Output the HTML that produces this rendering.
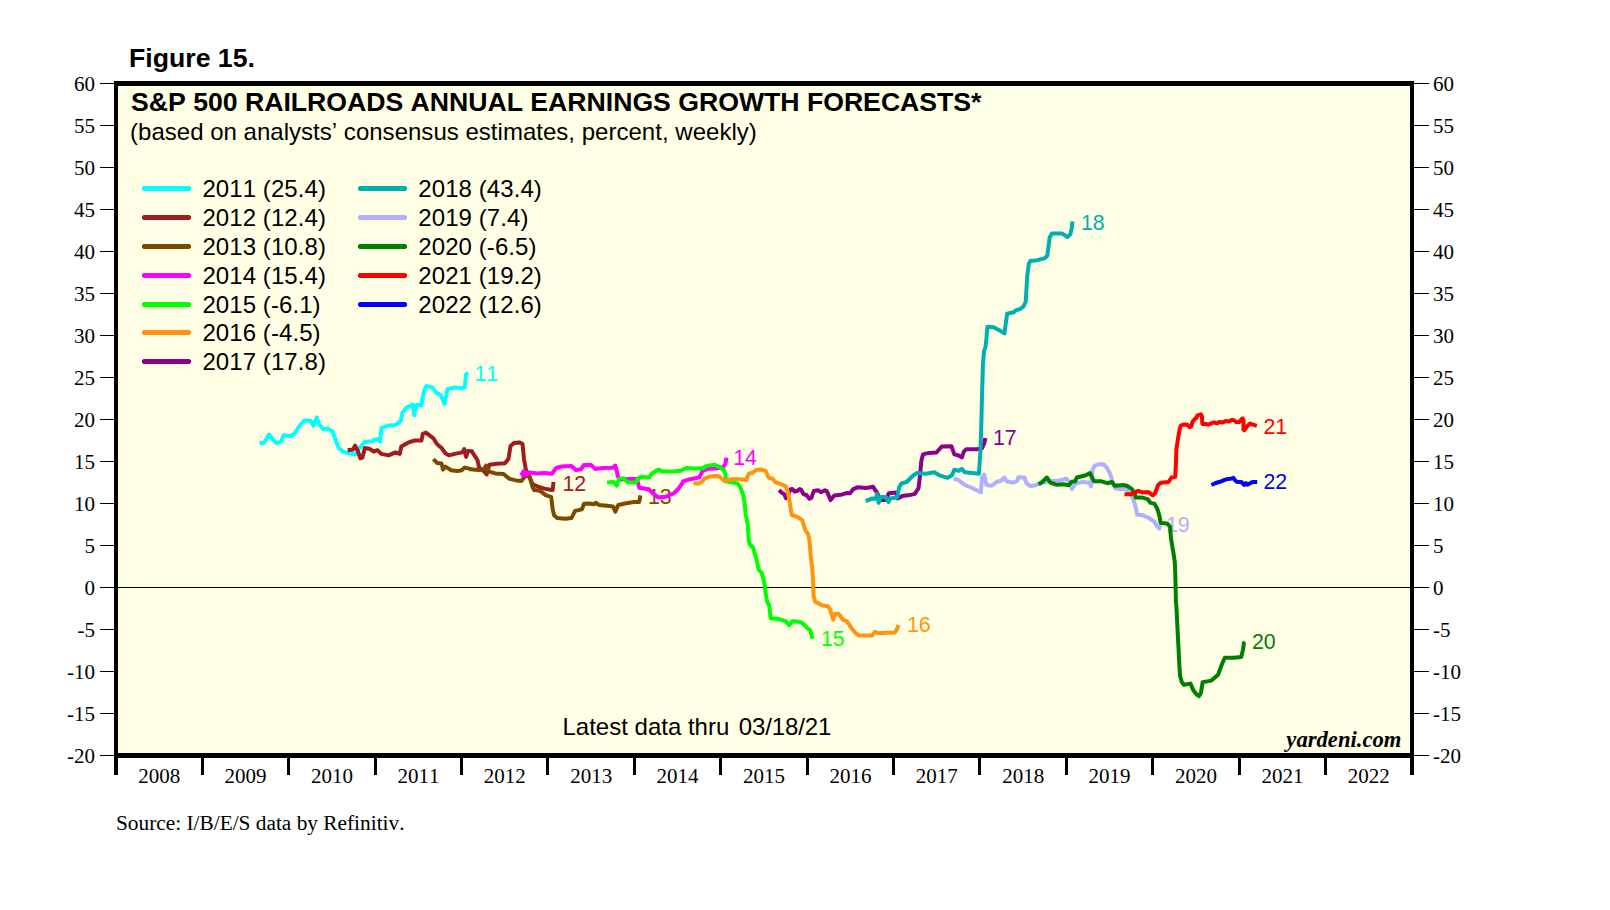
<!DOCTYPE html>
<html><head><meta charset="utf-8"><title>Figure 15</title>
<style>html,body{margin:0;padding:0;background:#fff;}body{width:1610px;height:910px;overflow:hidden;}svg{display:block;}text{font-kerning:none;}.ss{font-family:"Liberation Sans",sans-serif;}.sf{font-family:"Liberation Serif",serif;}</style></head><body>
<svg width="1610" height="910" viewBox="0 0 1610 910">
<rect x="0" y="0" width="1610" height="910" fill="#ffffff"/>
<rect x="118" y="86" width="1292" height="667" fill="#ffffe6"/>
<rect x="118" y="86" width="1292" height="1" fill="#fffff3"/>
<rect x="118" y="587" width="1292" height="1" fill="#000"/>
<g fill="none" stroke-linejoin="round" stroke-linecap="butt" stroke-width="4">
<polyline stroke="#00ffff" points="259.7,443.2 264.2,442.7 269.1,434.5 272.4,439.0 276.8,443.2 281.3,441.7 283.5,435.3 289.5,436.0 294.0,434.5 299.2,426.3 304.4,420.4 311.1,421.1 313.4,425.6 316.8,417.4 319.3,424.8 323.8,429.3 327.5,428.6 332.7,431.6 335.7,440.5 338.7,448.0 343.9,452.1 349.9,453.6 355.8,454.2 359.6,448.0 364.8,442.0 372.2,441.2 377.5,439.0 380.0,441.7 381.5,427.8 388.6,425.6 395.3,425.1 400.6,421.1 402.8,412.2 406.5,407.7 412.5,404.7 414.3,415.2 416.7,404.7 421.4,405.5 424.4,389.8 426.6,386.1 432.6,387.6 436.3,392.8 440.8,395.0 444.5,404.0 447.5,389.1 454.2,387.6 460.2,388.3 464.7,387.6 466.1,374.2 468.4,373.4"/>
<text class="ss" font-size="21.33" stroke="none" x="474.5" y="381" fill="#00ffff">11</text>
<polyline stroke="#a01c20" points="347.6,450.2 352.9,449.4 355.1,445.7 358.1,451.7 360.3,458.4 362.5,457.6 364.8,448.0 369.3,448.7 373.7,451.7 377.5,450.2 381.2,453.9 388.6,455.4 395.3,452.4 399.8,453.9 401.3,446.5 408.0,442.7 414.7,440.5 421.4,440.5 422.9,433.8 425.9,432.6 433.4,438.3 437.1,444.2 441.6,448.0 445.3,453.2 449.0,455.4 455.7,453.6 462.4,452.4 464.2,449.1 466.1,456.9 467.9,450.9 472.1,451.2 472.2,452.0 477.5,460.2 479.2,467.7 484.2,471.4 486.7,474.4 489.4,464.7 496.8,463.7 505.0,463.2 508.5,458.8 510.5,446.1 514.0,443.1 519.2,442.4 522.5,443.9 524.0,458.8 525.9,469.9 528.9,475.9 532.6,484.1 537.1,486.3 544.5,488.6 550.5,489.8 552.7,490.1 553.5,481.9"/>
<text class="ss" font-size="21.33" stroke="none" x="562.4" y="491" fill="#a01c20">12</text>
<polyline stroke="#7b4a00" points="433.4,459.1 437.1,462.9 441.6,463.6 443.0,469.6 445.3,466.6 451.2,470.3 457.2,471.1 461.7,470.3 464.7,467.6 473.6,469.6 470.0,469.2 478.9,469.9 484.2,469.2 486.1,465.5 488.6,471.4 495.3,473.4 503.5,474.0 509.5,478.9 516.2,480.4 521.4,481.1 525.9,475.2 529.6,476.6 532.6,487.1 534.1,490.1 540.1,490.8 546.0,495.3 551.2,496.8 552.7,509.4 554.2,515.4 557.2,518.1 565.4,518.7 571.4,518.1 575.1,510.9 581.8,509.4 584.0,503.8 589.3,503.5 593.7,504.2 596.0,502.7 598.9,505.0 607.1,505.7 613.1,506.5 615.3,511.7 618.3,505.0 625.0,503.5 634.0,502.0 639.2,502.0 640.4,495.3"/>
<text class="ss" font-size="21.33" stroke="none" x="648" y="503.8" fill="#7b4a00">13</text>
<polyline stroke="#ff00ff" points="521.4,475.2 523.4,471.4 522.5,474.9 525.5,472.2 525.5,474.9 529.6,472.5 537.1,473.4 544.5,472.9 552.0,473.7 556.5,467.7 562.4,466.5 571.4,465.9 575.8,469.9 581.1,469.2 584.0,465.0 590.7,464.7 595.2,468.9 602.7,468.0 613.1,467.7 615.3,465.5 618.3,477.4 620.6,479.6 628.0,478.9 637.0,478.9 639.2,487.8 648.9,489.3 654.1,494.5 658.6,497.5 665.3,496.8 674.2,493.0 678.0,489.3 683.2,481.9 683.0,481.4 690.4,479.2 699.4,477.4 702.4,471.0 708.3,468.8 715.8,468.5 723.2,467.3 725.5,463.5 726.5,457.6"/>
<text class="ss" font-size="21.33" stroke="none" x="733.2" y="464.8" fill="#ff00ff">14</text>
<polyline stroke="#00ff00" points="607.1,482.6 613.1,481.9 616.8,485.6 619.1,478.9 623.5,478.1 628.0,482.6 635.5,482.6 638.4,478.1 641.4,476.9 648.9,477.4 652.6,472.9 658.6,469.5 662.3,471.4 672.7,471.4 680.2,470.7 680.0,471.0 686.0,468.0 694.9,468.5 702.4,468.5 706.1,466.1 714.3,464.6 720.2,467.3 724.0,470.2 725.5,474.7 725.9,481.4 730.7,482.2 737.4,483.4 740.4,487.4 743.4,495.6 744.8,504.5 745.6,513.5 747.8,525.4 748.9,541.1 750.1,544.8 752.3,547.0 749.8,544.5 753.1,547.5 756.5,559.4 758.8,569.8 761.7,572.8 764.4,583.2 765.5,592.2 767.0,601.1 769.2,605.6 770.7,618.3 777.4,618.7 785.6,621.2 789.3,625.0 792.3,621.2 799.8,621.7 803.5,624.2 806.5,627.2 810.2,630.2 811.7,636.1 812.7,638.7"/>
<text class="ss" font-size="21.33" stroke="none" x="821" y="646" fill="#00ff00">15</text>
<polyline stroke="#8c008c" points="779.1,490.0 781.8,492.8 784.3,494.2 786.0,498.2 788.2,494.7 790.2,489.5 792.2,489.0 794.7,491.5 797.2,491.0 799.6,489.0 801.1,489.8 803.6,494.2 806.5,495.0 809.5,498.9 811.5,497.7 813.7,491.0 818.4,490.3 820.9,492.3 825.0,490.3 826.8,491.1 830.6,500.1 834.3,495.6 841.0,494.8 847.0,492.9 850.0,493.2 853.0,489.4 857.5,487.2 866.4,488.0 873.1,486.8 876.8,492.4 880.6,499.9 885.8,499.9 888.8,493.2 896.2,492.4 897.7,498.4 902.2,496.1 909.6,495.1 914.8,493.9 918.6,488.0 920.1,474.5 921.3,461.1 923.0,454.4 929.0,452.9 936.5,452.5 941.7,446.5 951.4,446.2 954.3,454.4 958.1,455.2 961.8,457.4 964.0,451.4 966.3,449.2 976.7,449.2 981.9,448.4 984.2,443.2 985.4,438.0"/>
<text class="ss" font-size="21.33" stroke="none" x="993" y="444.7" fill="#8c008c">17</text>
<polyline stroke="#ff9410" points="693.4,482.9 698.6,483.7 702.4,481.4 704.6,478.4 709.8,476.5 717.3,475.9 721.0,477.7 724.7,481.0 730.7,479.2 739.6,479.2 746.3,479.9 748.6,474.0 753.0,472.5 756.0,470.0 761.2,469.5 765.7,471.0 768.7,477.7 772.4,478.4 775.4,482.2 781.4,484.4 785.8,486.3 788.1,492.6 789.6,501.6 791.8,515.0 797.8,517.2 802.2,520.2 805.2,529.9 808.2,534.3 809.4,540.3 810.9,557.9 812.4,569.8 813.2,584.7 813.6,596.6 815.4,601.9 822.9,605.6 828.1,606.3 830.3,610.1 833.3,619.8 835.1,613.8 838.5,613.8 843.0,619.8 846.7,621.2 851.9,628.7 855.7,633.2 858.6,635.4 865.3,635.4 872.0,635.4 875.0,631.7 878.0,633.2 885.5,632.7 894.4,632.7 896.6,630.2 898.4,625.0"/>
<text class="ss" font-size="21.33" stroke="none" x="906.9" y="631.7" fill="#ff9410">16</text>
<polyline stroke="#00b0b0" points="865.7,501.1 872.4,498.4 876.1,498.7 876.8,493.9 878.6,502.9 880.6,496.9 885.8,496.9 888.5,502.1 890.2,498.4 897.0,497.6 899.2,487.2 901.4,483.5 906.6,482.0 912.6,476.0 917.1,473.0 926.0,473.8 934.2,472.3 939.4,475.3 947.6,477.8 952.1,475.3 954.3,469.8 958.8,470.8 961.8,468.9 964.8,472.3 972.2,473.0 978.9,473.8 980.4,452.2 981.2,429.8 981.9,400.0 982.5,379.6 982.9,364.7 984.0,351.3 985.5,346.8 986.5,337.9 987.4,326.7 993.7,327.2 999.6,330.4 1004.4,333.4 1006.3,320.0 1007.1,313.8 1013.8,312.3 1016.0,310.1 1019.8,309.3 1023.5,306.4 1025.7,301.9 1026.5,288.5 1027.2,276.6 1028.7,264.6 1030.2,260.9 1036.9,260.2 1044.3,258.4 1047.3,255.7 1048.5,246.7 1049.6,237.8 1051.8,233.6 1062.2,233.6 1067.5,237.0 1070.4,234.1 1071.9,227.4 1072.4,221.4"/>
<text class="ss" font-size="21.33" stroke="none" x="1080.9" y="229.6" fill="#00b0b0">18</text>
<polyline stroke="#b0b0ff" points="953.6,478.7 958.1,479.8 964.8,485.0 972.2,488.0 980.9,492.4 981.9,477.5 984.2,474.5 986.4,485.0 991.6,485.7 996.8,482.0 1001.3,480.5 1004.3,477.5 1006.5,481.2 1013.2,482.7 1017.0,481.2 1018.4,477.2 1024.4,477.5 1026.6,483.5 1030.4,486.2 1036.3,485.0 1042.3,482.7 1050.0,481.2 1058.9,480.5 1066.4,478.7 1069.4,482.0 1072.1,489.1 1075.3,483.5 1082.8,482.0 1089.5,482.7 1091.0,486.5 1092.5,470.1 1094.7,465.6 1099.2,464.1 1103.7,464.4 1107.4,468.6 1110.4,474.5 1112.6,482.0 1114.8,488.0 1120.1,489.1 1126.0,489.1 1130.5,493.9 1133.5,499.9 1135.7,507.3 1137.2,514.8 1142.4,515.1 1148.4,517.8 1154.3,521.5 1157.3,526.7 1159.1,528.5 1160.3,525.2"/>
<text class="ss" font-size="21.33" stroke="none" x="1166" y="531.5" fill="#b0b0ff">19</text>
<polyline stroke="#008000" points="1038.6,484.2 1042.3,482.0 1046.8,477.5 1050.5,482.7 1056.0,484.7 1063.4,484.2 1068.6,485.3 1071.6,481.7 1075.3,481.2 1076.8,477.5 1085.8,475.3 1090.0,473.0 1091.7,476.8 1094.0,481.2 1100.7,481.2 1107.4,483.2 1111.9,482.0 1114.8,485.7 1123.0,485.0 1126.8,485.7 1132.0,489.1 1135.3,495.4 1135.7,497.6 1142.4,497.6 1147.6,499.1 1150.6,502.9 1154.3,503.6 1157.3,508.8 1159.6,516.3 1160.6,523.0 1167.0,523.4 1170.0,526.7 1171.1,539.2 1173.4,552.6 1174.8,562.3 1175.3,573.5 1175.6,586.9 1175.9,601.8 1176.3,604.9 1177.1,619.8 1177.8,634.7 1178.6,649.6 1179.3,664.5 1180.1,675.7 1181.6,681.7 1183.8,684.7 1190.5,683.6 1193.5,690.6 1196.5,694.3 1199.0,696.1 1200.9,692.9 1202.7,682.1 1211.4,680.6 1214.3,678.0 1218.1,674.7 1221.8,664.5 1224.8,657.8 1233.7,657.8 1241.2,657.1 1243.0,649.6 1243.9,642.9 1244.9,641.9"/>
<text class="ss" font-size="21.33" stroke="none" x="1252" y="648.6" fill="#008000">20</text>
<polyline stroke="#ff0000" points="1124.5,494.2 1131.2,494.2 1138.0,490.9 1142.4,492.4 1148.4,492.1 1152.9,495.4 1155.1,493.2 1158.1,485.0 1161.1,482.7 1168.5,482.0 1171.5,477.5 1175.2,476.8 1176.0,462.6 1176.4,449.2 1178.2,437.3 1179.7,429.1 1180.7,425.8 1182.5,424.8 1185.5,424.6 1187.5,424.8 1189.4,427.1 1191.4,426.3 1192.4,421.9 1194.4,419.4 1196.4,417.9 1197.4,415.4 1200.9,414.4 1201.9,416.4 1202.4,423.9 1205.8,423.9 1208.3,424.8 1211.8,423.1 1214.3,422.4 1216.8,423.4 1219.8,421.9 1222.7,422.6 1225.7,420.9 1229.2,421.4 1232.2,419.9 1234.2,420.4 1235.7,421.9 1239.6,421.9 1241.1,419.6 1242.6,418.4 1243.6,420.4 1243.4,429.3 1244.3,430.3 1246.1,427.8 1247.6,425.8 1250.1,423.6 1253.0,424.6 1256.8,425.8"/>
<text class="ss" font-size="21.33" stroke="none" x="1263.5" y="433.5" fill="#ff0000">21</text>
<polyline stroke="#0000ff" points="1211.4,485.0 1215.8,483.0 1221.1,481.3 1224.6,479.9 1228.1,478.9 1231.7,478.4 1233.4,477.8 1234.7,479.9 1236.5,481.7 1241.3,481.9 1243.1,483.9 1244.4,485.0 1245.7,483.2 1247.5,484.6 1249.7,483.5 1252.8,481.9 1257.2,481.9"/>
<text class="ss" font-size="21.33" stroke="none" x="1263.5" y="488.7" fill="#0000ff">22</text>
</g>
<g fill="#000">
<rect x="114" y="81" width="1300" height="5"/>
<rect x="114" y="753" width="1300" height="5"/>
<rect x="114" y="81" width="4" height="694"/>
<rect x="1410" y="81" width="4" height="694"/>
<rect x="201" y="758" width="3" height="17"/>
<rect x="287" y="758" width="3" height="17"/>
<rect x="374" y="758" width="3" height="17"/>
<rect x="460" y="758" width="3" height="17"/>
<rect x="546" y="758" width="3" height="17"/>
<rect x="633" y="758" width="3" height="17"/>
<rect x="719" y="758" width="3" height="17"/>
<rect x="806" y="758" width="3" height="17"/>
<rect x="892" y="758" width="3" height="17"/>
<rect x="978" y="758" width="3" height="17"/>
<rect x="1065" y="758" width="3" height="17"/>
<rect x="1151" y="758" width="3" height="17"/>
<rect x="1238" y="758" width="3" height="17"/>
<rect x="1324" y="758" width="3" height="17"/>
<rect x="100" y="83" width="14" height="1"/>
<rect x="1414" y="83" width="15" height="1"/>
<rect x="100" y="125" width="14" height="1"/>
<rect x="1414" y="125" width="15" height="1"/>
<rect x="100" y="167" width="14" height="1"/>
<rect x="1414" y="167" width="15" height="1"/>
<rect x="100" y="209" width="14" height="1"/>
<rect x="1414" y="209" width="15" height="1"/>
<rect x="100" y="251" width="14" height="1"/>
<rect x="1414" y="251" width="15" height="1"/>
<rect x="100" y="293" width="14" height="1"/>
<rect x="1414" y="293" width="15" height="1"/>
<rect x="100" y="335" width="14" height="1"/>
<rect x="1414" y="335" width="15" height="1"/>
<rect x="100" y="377" width="14" height="1"/>
<rect x="1414" y="377" width="15" height="1"/>
<rect x="100" y="419" width="14" height="1"/>
<rect x="1414" y="419" width="15" height="1"/>
<rect x="100" y="461" width="14" height="1"/>
<rect x="1414" y="461" width="15" height="1"/>
<rect x="100" y="503" width="14" height="1"/>
<rect x="1414" y="503" width="15" height="1"/>
<rect x="100" y="545" width="14" height="1"/>
<rect x="1414" y="545" width="15" height="1"/>
<rect x="100" y="587" width="14" height="1"/>
<rect x="1414" y="587" width="15" height="1"/>
<rect x="100" y="629" width="14" height="1"/>
<rect x="1414" y="629" width="15" height="1"/>
<rect x="100" y="671" width="14" height="1"/>
<rect x="1414" y="671" width="15" height="1"/>
<rect x="100" y="713" width="14" height="1"/>
<rect x="1414" y="713" width="15" height="1"/>
<rect x="100" y="755" width="14" height="1"/>
<rect x="1414" y="755" width="15" height="1"/>
</g>
<g class="sf" font-size="21" fill="#000">
<text x="95" y="90.5" text-anchor="end">60</text>
<text x="1433" y="90.5" text-anchor="start">60</text>
<text x="95" y="132.5" text-anchor="end">55</text>
<text x="1433" y="132.5" text-anchor="start">55</text>
<text x="95" y="174.5" text-anchor="end">50</text>
<text x="1433" y="174.5" text-anchor="start">50</text>
<text x="95" y="216.5" text-anchor="end">45</text>
<text x="1433" y="216.5" text-anchor="start">45</text>
<text x="95" y="258.5" text-anchor="end">40</text>
<text x="1433" y="258.5" text-anchor="start">40</text>
<text x="95" y="300.5" text-anchor="end">35</text>
<text x="1433" y="300.5" text-anchor="start">35</text>
<text x="95" y="342.5" text-anchor="end">30</text>
<text x="1433" y="342.5" text-anchor="start">30</text>
<text x="95" y="384.5" text-anchor="end">25</text>
<text x="1433" y="384.5" text-anchor="start">25</text>
<text x="95" y="426.5" text-anchor="end">20</text>
<text x="1433" y="426.5" text-anchor="start">20</text>
<text x="95" y="468.5" text-anchor="end">15</text>
<text x="1433" y="468.5" text-anchor="start">15</text>
<text x="95" y="510.5" text-anchor="end">10</text>
<text x="1433" y="510.5" text-anchor="start">10</text>
<text x="95" y="552.5" text-anchor="end">5</text>
<text x="1433" y="552.5" text-anchor="start">5</text>
<text x="95" y="594.5" text-anchor="end">0</text>
<text x="1433" y="594.5" text-anchor="start">0</text>
<text x="95" y="636.5" text-anchor="end">-5</text>
<text x="1433" y="636.5" text-anchor="start">-5</text>
<text x="95" y="678.5" text-anchor="end">-10</text>
<text x="1433" y="678.5" text-anchor="start">-10</text>
<text x="95" y="720.5" text-anchor="end">-15</text>
<text x="1433" y="720.5" text-anchor="start">-15</text>
<text x="95" y="762.5" text-anchor="end">-20</text>
<text x="1433" y="762.5" text-anchor="start">-20</text>
</g>
<g class="sf" font-size="21" fill="#000" text-anchor="middle">
<text x="159.2" y="783">2008</text>
<text x="245.6" y="783">2009</text>
<text x="332.0" y="783">2010</text>
<text x="418.4" y="783">2011</text>
<text x="504.8" y="783">2012</text>
<text x="591.2" y="783">2013</text>
<text x="677.6" y="783">2014</text>
<text x="764.0" y="783">2015</text>
<text x="850.4" y="783">2016</text>
<text x="936.8" y="783">2017</text>
<text x="1023.2" y="783">2018</text>
<text x="1109.6" y="783">2019</text>
<text x="1196.0" y="783">2020</text>
<text x="1282.4" y="783">2021</text>
<text x="1368.8" y="783">2022</text>
</g>
<text class="ss" x="129" y="66.5" font-size="26.67" font-weight="bold" fill="#000">Figure 15.</text>
<text class="ss" x="131" y="110.8" letter-spacing="-0.022" font-size="26.67" font-weight="bold" fill="#000">S&amp;P 500 RAILROADS ANNUAL EARNINGS GROWTH FORECASTS*</text>
<text class="ss" x="130" y="139.5" letter-spacing="0.02" font-size="24" fill="#000">(based on analysts’ consensus estimates, percent, weekly)</text>
<g class="ss" font-size="24" fill="#000" letter-spacing="0.08">
<rect x="143" y="186" width="47" height="5" fill="#00ffff"/><rect x="142" y="187" width="49" height="3" fill="#00ffff"/>
<text x="202.4" y="197">2011 (25.4)</text>
<rect x="143" y="215" width="47" height="5" fill="#a01c20"/><rect x="142" y="216" width="49" height="3" fill="#a01c20"/>
<text x="202.4" y="226">2012 (12.4)</text>
<rect x="143" y="244" width="47" height="5" fill="#7b4a00"/><rect x="142" y="245" width="49" height="3" fill="#7b4a00"/>
<text x="202.4" y="255">2013 (10.8)</text>
<rect x="143" y="273" width="47" height="5" fill="#ff00ff"/><rect x="142" y="274" width="49" height="3" fill="#ff00ff"/>
<text x="202.4" y="284">2014 (15.4)</text>
<rect x="143" y="302" width="47" height="5" fill="#00ff00"/><rect x="142" y="303" width="49" height="3" fill="#00ff00"/>
<text x="202.4" y="313">2015 (-6.1)</text>
<rect x="143" y="330" width="47" height="5" fill="#ff9410"/><rect x="142" y="331" width="49" height="3" fill="#ff9410"/>
<text x="202.4" y="341">2016 (-4.5)</text>
<rect x="143" y="359" width="47" height="5" fill="#8c008c"/><rect x="142" y="360" width="49" height="3" fill="#8c008c"/>
<text x="202.4" y="370">2017 (17.8)</text>
<rect x="359" y="186" width="47" height="5" fill="#00b0b0"/><rect x="358" y="187" width="49" height="3" fill="#00b0b0"/>
<text x="418.3" y="197">2018 (43.4)</text>
<rect x="359" y="215" width="47" height="5" fill="#b0b0ff"/><rect x="358" y="216" width="49" height="3" fill="#b0b0ff"/>
<text x="418.3" y="226">2019 (7.4)</text>
<rect x="359" y="244" width="47" height="5" fill="#008000"/><rect x="358" y="245" width="49" height="3" fill="#008000"/>
<text x="418.3" y="255">2020 (-6.5)</text>
<rect x="359" y="273" width="47" height="5" fill="#ff0000"/><rect x="358" y="274" width="49" height="3" fill="#ff0000"/>
<text x="418.3" y="284">2021 (19.2)</text>
<rect x="359" y="302" width="47" height="5" fill="#0000ff"/><rect x="358" y="303" width="49" height="3" fill="#0000ff"/>
<text x="418.3" y="313">2022 (12.6)</text>
</g>
<text class="ss" x="562.5" y="735" font-size="24" fill="#000">Latest data thru <tspan dx="2.8" letter-spacing="-0.12">03/18/21</tspan></text>
<text class="sf" x="1401.5" y="747" font-size="22.67" font-weight="bold" font-style="italic" text-anchor="end" fill="#000">yardeni.com</text>
<text class="sf" x="116" y="830" font-size="21.33" fill="#000">Source: I/B/E/S data by Refinitiv.</text>
</svg></body></html>
